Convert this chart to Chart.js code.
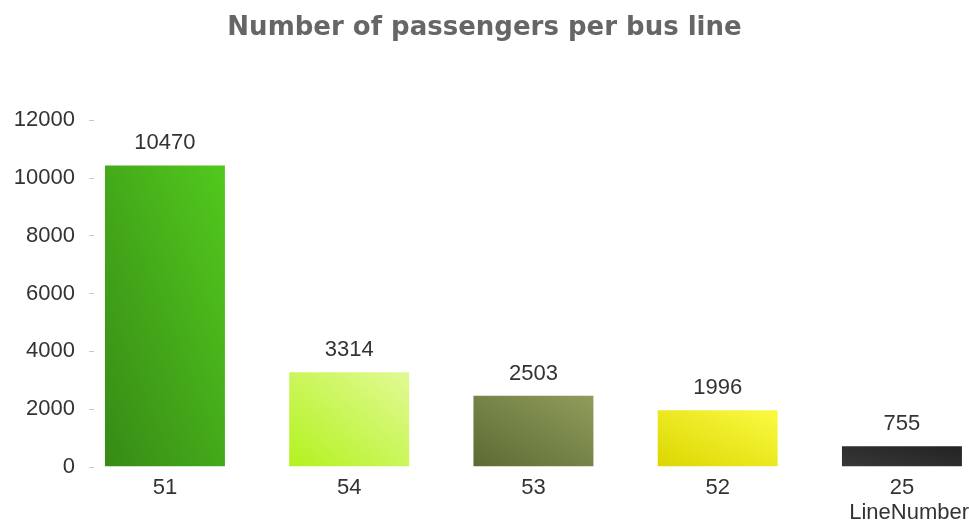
<!DOCTYPE html>
<html>
<head>
<meta charset="utf-8">
<title>Number of passengers per bus line</title>
<script src="https://cdn.jsdelivr.net/npm/chart.js@4.4.1/dist/chart.umd.min.js"></script>
<style>
  html, body { margin: 0; padding: 0; background: #fff; }
  .chart-container { width: 969px; height: 526px; position: relative; }
</style>
</head>
<body>
<div class="chart-container">
  <canvas id="busChart"></canvas>
</div>
<script>
// data
const lineNumbers = ['51', '54', '53', '52', '25'];
const passengers = [10470, 3314, 2503, 1996, 755];
const yTicks = [0, 2000, 4000, 6000, 8000, 10000, 12000];
// bottom-left (dark) -> top-right (light) colour of each bar
const gradientStart = ['#378a16', '#b2f21e', '#5c6a33', '#dbd600', '#383838'];
const gradientEnd = ['#52c91d', '#e2fa96', '#909d5c', '#fbfb44', '#222222'];

const BAR_PCT = 0.662;
const labelFont = { family: "'Liberation Sans', Arial, sans-serif", size: 22 };

// corner to corner gradient, with the other diagonal as the mid line
const barGradient = (context) => {
  const chart = context.chart;
  const i = context.dataIndex;
  const x = chart.scales.x;
  const y = chart.scales.y;
  const fallback = gradientStart[i] || '#888';
  if (!x || !y || i === undefined) return fallback;
  const xa = x.getPixelForValue(0);
  const xb = x.getPixelForValue(1);
  const cx = x.getPixelForValue(i);
  const yBase = y.getPixelForValue(0);
  const yTop = y.getPixelForValue(passengers[i]);
  if (![xa, xb, cx, yBase, yTop].every(Number.isFinite) || xb === xa) return fallback;
  const w = (xb - xa) * BAR_PCT;
  const h = Math.max(yBase - yTop, 1);
  const L = Math.sqrt(w * w + h * h);
  const len = 2 * w * h / L;
  const x0 = cx - w / 2;
  const grad = chart.ctx.createLinearGradient(x0, yBase, x0 + h / L * len, yBase - w / L * len);
  grad.addColorStop(0, gradientStart[i]);
  grad.addColorStop(1, gradientEnd[i]);
  return grad;
};

// value printed above each bar
const valueLabels = {
  id: 'valueLabels',
  afterDatasetsDraw(chart) {
    const ctx = chart.ctx;
    const meta = chart.getDatasetMeta(0);
    ctx.save();
    ctx.font = `${labelFont.size}px ${labelFont.family}`;
    ctx.fillStyle = '#333333';
    ctx.textAlign = 'center';
    ctx.textBaseline = 'middle';
    meta.data.forEach((bar, i) => {
      ctx.fillText(String(passengers[i]), bar.x, bar.y - 21);
    });
    ctx.restore();
  }
};

new Chart(document.getElementById('busChart'), {
  type: 'bar',
  data: {
    datasets: [{
      data: passengers.map((v, i) => ({ x: i, y: v })),
      backgroundColor: barGradient,
      borderColor: 'rgba(255,255,255,0.55)',
      borderWidth: 1,
      categoryPercentage: 1,
      barPercentage: BAR_PCT
    }]
  },
  options: {
    responsive: true,
    maintainAspectRatio: false,
    animation: false,
    layout: { padding: { left: 0, right: 0, top: 0, bottom: 0 } },
    plugins: {
      legend: { display: false },
      tooltip: { enabled: false },
      title: {
        display: true,
        text: 'Number of passengers per bus line',
        color: '#666666',
        font: { family: "'DejaVu Sans', Verdana, sans-serif", size: 26, weight: 'bold' },
        padding: { top: 13, bottom: 76 }
      }
    },
    scales: {
      x: {
        type: 'linear',
        offset: false,
        min: -0.385,
        max: 4.364,
        afterFit: (scale) => { scale.height = 59; },
        grid: { display: false, drawTicks: false, offset: false },
        border: { display: false },
        afterBuildTicks: (scale) => {
          scale.ticks = lineNumbers.map((_, i) => ({ value: i }));
        },
        ticks: {
          color: '#333333',
          font: labelFont,
          padding: 8,
          maxRotation: 0,
          autoSkip: false,
          callback: (value) => lineNumbers[value]
        },
        title: {
          display: true,
          text: 'LineNumber',
          align: 'end',
          color: '#333333',
          font: labelFont,
          padding: { top: 2, bottom: 0 }
        }
      },
      y: {
        min: 0,
        max: 12000,
        afterBuildTicks: (scale) => {
          scale.ticks = yTicks.map(v => ({ value: v }));
        },
        afterFit: (scale) => { scale.width = 94; },
        grid: {
          display: true,
          drawOnChartArea: false,
          drawTicks: true,
          tickLength: 5,
          color: '#c8c8c8'
        },
        border: { display: false },
        ticks: {
          color: '#333333',
          font: labelFont,
          padding: 14,
          callback: (value) => String(value)
        }
      }
    }
  },
  plugins: [valueLabels]
});
</script>
</body>
</html>
